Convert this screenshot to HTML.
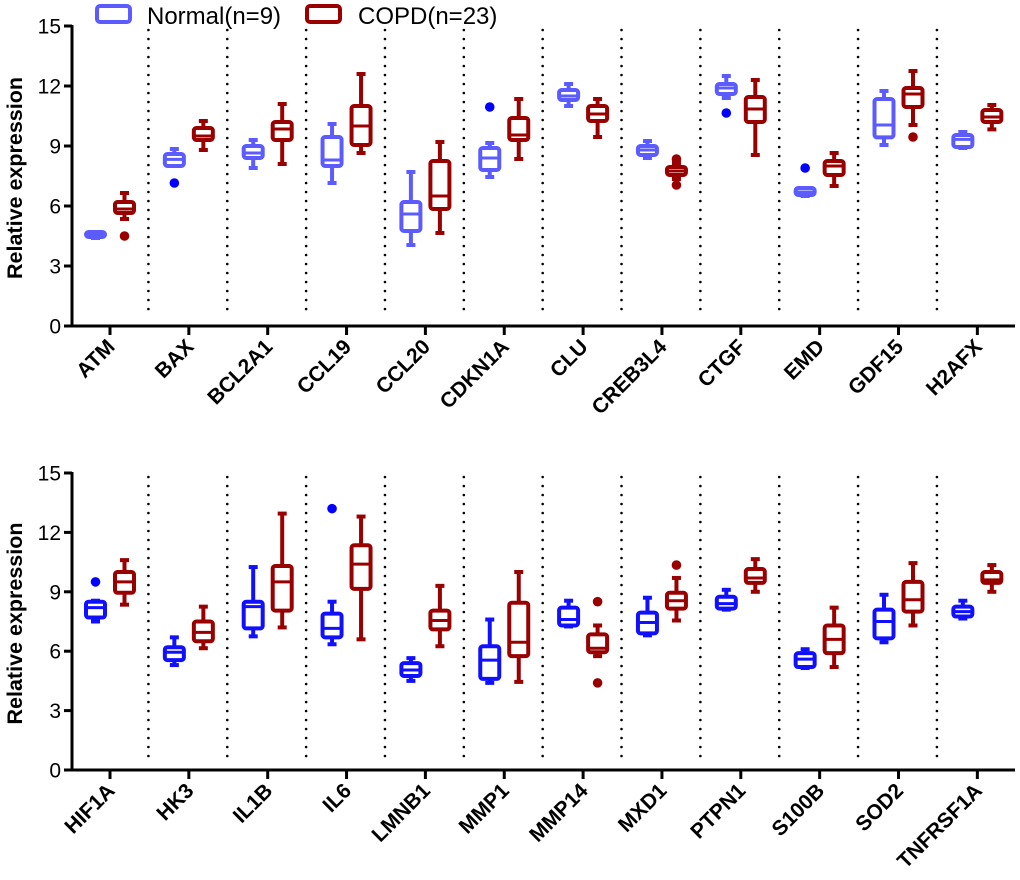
<!DOCTYPE html>
<html><head><meta charset="utf-8"><style>
html,body{margin:0;padding:0;background:#fff;}
svg{display:block;font-family:"Liberation Sans",Arial,sans-serif;}
</style></head><body>
<svg id="chart" width="1020" height="880" viewBox="0 0 1020 880">
<g>
  <rect x="97" y="6" width="33" height="16" rx="3" fill="none" stroke="#5b5bff" stroke-width="4"/>
  <text x="147" y="24" font-size="24" fill="#000">Normal(n=9)</text>
  <rect x="307" y="6" width="33" height="16" rx="3" fill="none" stroke="#990000" stroke-width="4"/>
  <text x="358" y="24" font-size="24" fill="#000">COPD(n=23)</text>
</g>
</svg>
<script>
// ---- data ----
const topGenes = ["ATM","BAX","BCL2A1","CCL19","CCL20","CDKN1A","CLU","CREB3L4","CTGF","EMD","GDF15","H2AFX"];
const botGenes = ["HIF1A","HK3","IL1B","IL6","LMNB1","MMP1","MMP14","MXD1","PTPN1","S100B","SOD2","TNFRSF1A"];
const yTicks = [0,3,6,9,12,15];
// [whiskerLow, q1, median, q3, whiskerHigh]
const topNormal = [
 [4.4,4.45,4.55,4.7,4.7],[8.0,8.0,8.33,8.6,8.85],[7.9,8.4,8.65,9.0,9.3],[7.15,8.0,8.3,9.45,10.1],
 [4.05,4.75,5.6,6.2,7.7],[7.45,7.8,8.4,8.9,9.15],[11.0,11.3,11.5,11.8,12.1],[8.4,8.55,8.8,9.0,9.25],
 [11.4,11.6,11.9,12.1,12.5],[6.5,6.55,6.7,6.9,6.9],[9.05,9.43,10.05,11.35,11.75],[8.9,8.95,9.33,9.55,9.7]];
const topNormalOut = [[],[7.15],[],[],[],[10.95],[],[],[10.65],[7.9],[],[]];
const topCopd = [
 [5.35,5.65,5.85,6.2,6.65],[8.8,9.3,9.5,9.9,10.25],[8.1,9.3,9.85,10.2,11.1],[8.65,9.05,10.0,11.0,12.6],
 [4.65,5.85,6.5,8.25,9.2],[8.35,9.3,9.55,10.4,11.35],[9.45,10.25,10.6,11.0,11.35],[7.35,7.55,7.75,7.95,8.15],
 [8.55,10.2,10.85,11.45,12.3],[7.0,7.55,8.0,8.25,8.65],[10.05,10.95,11.6,11.9,12.75],[9.83,10.2,10.45,10.8,11.05]];
const topCopdOut = [[4.5],[],[],[],[],[],[],[8.35,7.05],[],[],[9.45],[]];
const botNormal = [
 [7.5,7.7,8.2,8.5,8.55],[5.3,5.55,5.95,6.2,6.7],[6.75,7.15,8.25,8.5,10.25],[6.35,6.7,7.15,7.9,8.5],
 [4.5,4.75,5.05,5.4,5.65],[4.4,4.6,5.55,6.25,7.6],[7.25,7.3,7.6,8.2,8.55],[6.8,6.9,7.45,7.95,8.7],
 [8.1,8.15,8.4,8.75,9.1],[5.15,5.2,5.6,5.9,6.1],[6.45,6.65,7.5,8.1,8.85],[7.65,7.75,8.0,8.25,8.55]];
const botNormalOut = [[9.5],[],[],[13.2],[],[],[],[],[],[],[],[]];
const botCopd = [
 [8.35,8.95,9.5,10.0,10.6],[6.15,6.5,6.95,7.5,8.25],[7.2,8.05,9.5,10.3,12.95],[6.6,9.15,10.4,11.35,12.8],
 [6.25,7.1,7.55,8.05,9.3],[4.45,5.75,6.45,8.45,10.0],[5.75,5.95,6.15,6.85,7.3],[7.55,8.15,8.55,8.95,9.7],
 [9.0,9.45,9.7,10.15,10.65],[5.2,5.9,6.6,7.3,8.2],[7.3,8.0,8.6,9.5,10.45],[9.0,9.45,9.6,10.0,10.35]];
const botCopdOut = [[],[],[],[],[],[],[8.5,4.4],[10.35],[],[],[],[]];

const NS="http://www.w3.org/2000/svg";
const svg=document.getElementById('chart');
function mk(tag,attrs,parent){const e=document.createElementNS(NS,tag);for(const k in attrs)e.setAttribute(k,attrs[k]);(parent||svg).appendChild(e);return e;}

function panel(opts){
  const {genes,normal,normalOut,copd,copdOut,y0,y15,nColor,prefix}=opts;
  const g=mk('g',{});
  
  
  const x0=72,xEnd=1015,first=110,step=78.85;
  const yS=v=>y0-(v/15)*(y0-y15);
  const xS=i=>first+i*step;
  for(let i=0;i<genes.length-1;i++){
    const sx=(xS(i)+xS(i+1))/2-1;
    const l=mk('line',{x1:sx,x2:sx,y1:y15+4,y2:y0-9,stroke:'#000','stroke-width':2.6,'stroke-dasharray':'0 9','stroke-linecap':'round'},g);
    
    
  }
  const ya=mk('line',{x1:x0,x2:x0,y1:y15-1,y2:y0+1.5,stroke:'#000','stroke-width':3},g);
  
  
  const xa=mk('line',{x1:x0-1.5,x2:xEnd,y1:y0,y2:y0,stroke:'#000','stroke-width':3},g);
  
  
  yTicks.forEach(t=>{
    const y=yS(t);
    const tk=mk('line',{x1:x0-8,x2:x0,y1:y,y2:y,stroke:'#000','stroke-width':3},g);
    
    
    const tx=mk('text',{x:x0-11,y:y+7.5,'font-size':21,'text-anchor':'end'},g);
    tx.textContent=t;
    
    
  });
  const yt=mk('text',{transform:`translate(22,${(y0+y15)/2+2}) rotate(-90)`,'font-size':21.5,'font-weight':'bold','text-anchor':'middle'},g);
  yt.textContent='Relative expression';
  
  
  genes.forEach((name,i)=>{
    const x=xS(i);
    const tk=mk('line',{x1:x,x2:x,y1:y0,y2:y0+9,stroke:'#000','stroke-width':3},g);
    
    
    const tx=mk('text',{transform:`translate(${x+6},${y0+22}) rotate(-45)`,'font-size':21,'font-weight':'bold','text-anchor':'end'},g);
    tx.textContent=name;
    
    
    drawBox(g,x-14.5,normal[i],normalOut[i],nColor,yS,'normal-box-'+name.toLowerCase());
    drawBox(g,x+14.5,copd[i],copdOut[i],'#990000',yS,'copd-box-'+name.toLowerCase());
  });
}
function drawBox(parent,cx,d,outs,color,yS,name){
  const g=mk('g',{},parent);
  
  
  const [lo,q1,md,q3,hi]=d;
  const w=19,cw=9,sw=4;
  mk('line',{x1:cx,x2:cx,y1:yS(hi),y2:yS(q3),stroke:color,'stroke-width':sw},g);
  mk('line',{x1:cx,x2:cx,y1:yS(q1),y2:yS(lo),stroke:color,'stroke-width':sw},g);
  mk('line',{x1:cx-cw/2,x2:cx+cw/2,y1:yS(hi),y2:yS(hi),stroke:color,'stroke-width':sw},g);
  mk('line',{x1:cx-cw/2,x2:cx+cw/2,y1:yS(lo),y2:yS(lo),stroke:color,'stroke-width':sw},g);
  mk('rect',{x:cx-w/2,y:yS(q3),width:w,height:Math.max(0.5,yS(q1)-yS(q3)),rx:2.5,fill:'none',stroke:color,'stroke-width':sw},g);
  mk('line',{x1:cx-w/2,x2:cx+w/2,y1:yS(md),y2:yS(md),stroke:color,'stroke-width':3},g);
  outs.forEach(v=>{
    const c=mk('circle',{cx:cx,cy:yS(v),r:4.8,fill:color==='#990000'?'#990000':'#0000ff'},g);
    
    
  });
}
panel({genes:topGenes,normal:topNormal,normalOut:topNormalOut,copd:topCopd,copdOut:topCopdOut,y0:326,y15:26,nColor:'#5b5bff',prefix:'top'});
panel({genes:botGenes,normal:botNormal,normalOut:botNormalOut,copd:botCopd,copdOut:botCopdOut,y0:770,y15:473,nColor:'#1010ff',prefix:'bottom'});
</script>
</body></html>
